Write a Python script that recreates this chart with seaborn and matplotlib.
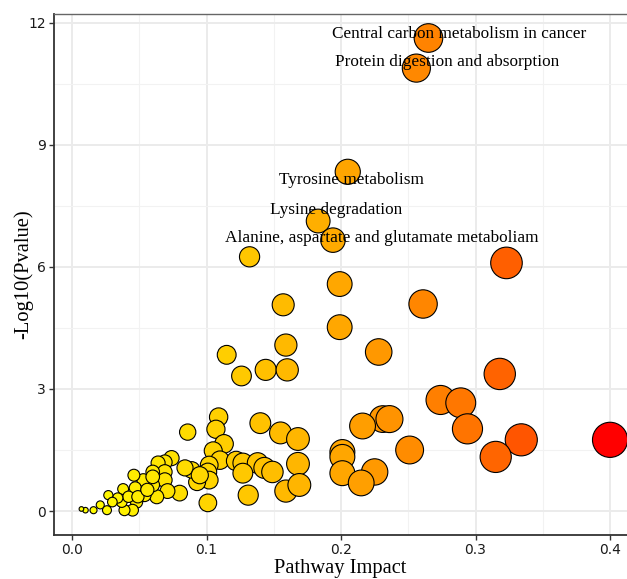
import pandas as pd
import numpy as np
import matplotlib
matplotlib.use("Agg")
import matplotlib.pyplot as plt
import seaborn as sns
from matplotlib.colors import LinearSegmentedColormap
from matplotlib.ticker import MultipleLocator

# pathway impact / -log10(p)
impact = [0.265, 0.256, 0.205, 0.183, 0.194, 0.132, 0.323, 0.199, 0.157, 0.261,
          0.199, 0.159, 0.115, 0.228, 0.126, 0.144, 0.160, 0.318,
          0.274, 0.289, 0.231, 0.236, 0.216, 0.294, 0.334, 0.400, 0.251, 0.201,
          0.201, 0.315, 0.225, 0.201, 0.215,
          0.109, 0.086, 0.107, 0.140, 0.155, 0.168, 0.113, 0.105, 0.110, 0.122,
          0.127, 0.138, 0.143, 0.149, 0.168, 0.127, 0.102, 0.101, 0.102, 0.093,
          0.089, 0.084, 0.095, 0.101, 0.131, 0.159, 0.169,
          0.074, 0.069, 0.064, 0.069, 0.060, 0.069, 0.080, 0.071, 0.063, 0.054,
          0.060, 0.053, 0.046, 0.047, 0.048, 0.045, 0.039, 0.038, 0.037, 0.042,
          0.034, 0.027, 0.026, 0.021, 0.016, 0.010, 0.007, 0.030, 0.049, 0.056,
          0.060]
logp = [11.63, 10.89, 8.34, 7.13, 6.66, 6.25, 6.10, 5.58, 5.07, 5.09,
        4.52, 4.08, 3.84, 3.91, 3.32, 3.47, 3.47, 3.37,
        2.73, 2.66, 2.26, 2.26, 2.09, 2.02, 1.75, 1.75, 1.50, 1.45,
        1.33, 1.33, 0.96, 0.93, 0.69,
        2.31, 1.94, 2.01, 2.16, 1.92, 1.77, 1.65, 1.48, 1.25, 1.23,
        1.18, 1.18, 1.06, 0.96, 1.16, 0.93, 1.13, 0.96, 0.76, 0.71,
        1.01, 1.06, 0.88, 0.20, 0.39, 0.49, 0.64,
        1.30, 1.20, 1.18, 0.96, 0.96, 0.76, 0.44, 0.49, 0.35, 0.39,
        0.64, 0.76, 0.88, 0.57, 0.22, 0.02, 0.02, 0.54, 0.22, 0.35,
        0.32, 0.39, 0.02, 0.15, 0.02, 0.02, 0.05, 0.22, 0.35, 0.52,
        0.84]

labels = ["Central carbon metabolism in cancer", "Protein digestion and absorption",
          "Tyrosine metabolism", "Lysine degradation",
          "Alanine, aspartate and glutamate metaboliam"]
label_x = [0.288, 0.279, 0.2074, 0.196, 0.2305]
label_y = [11.72, 11.04, 8.14, 7.41, 6.72]

df = pd.DataFrame({"impact": impact, "logp": logp})

cmap = LinearSegmentedColormap.from_list(
    "yr", [(0, "#FFFF00"), (0.25, "#FFD200"), (0.5, "#FFA500"),
           (0.75, "#FF7000"), (0.85, "#FF5000"), (1, "#FF0000")])

lo, hi = min(impact), max(impact)

fig = plt.figure(figsize=(6.27, 5.79), dpi=100)
ax = fig.add_axes([0.0861, 0.076, 0.9139, 0.8998])

sns.scatterplot(data=df, x="impact", y="logp", hue="impact", palette=cmap,
                hue_norm=(lo, hi), size="impact", sizes=(1600 * lo, 1600 * hi),
                size_norm=(lo, hi), edgecolor="black", linewidth=0.8,
                legend=False, ax=ax, zorder=3)

for t, x, y in zip(labels, label_x, label_y):
    ax.text(x, y, t, ha="center", va="center", fontsize=12.4,
            family="Liberation Serif", zorder=4)

ax.set_xlim(-0.0134, 0.4126)
ax.set_ylim(-0.59, 12.22)
ax.xaxis.set_major_locator(MultipleLocator(0.1))
ax.xaxis.set_minor_locator(MultipleLocator(0.05))
ax.yaxis.set_major_locator(MultipleLocator(3))
ax.yaxis.set_minor_locator(MultipleLocator(1.5))
ax.set_xticklabels([f"{v:.1f}" for v in ax.get_xticks()])
ax.set_yticklabels([f"{v:.0f}" for v in ax.get_yticks()])

ax.grid(which="major", color="#EBEBEB", linewidth=1.4, zorder=0)
ax.grid(which="minor", color="#F2F2F2", linewidth=0.8, zorder=0)
ax.set_axisbelow(True)
ax.tick_params(which="major", length=3.5, width=1, color="#333333",
               labelsize=10, labelcolor="#1a1a1a", pad=2.5)
ax.tick_params(which="minor", length=0)

for s in ["left", "bottom"]:
    ax.spines[s].set_color("#333333")
    ax.spines[s].set_linewidth(1.3)
ax.spines["top"].set_color("#666666")
ax.spines["top"].set_linewidth(1.0)
ax.spines["right"].set_visible(False)

ax.set_xlabel("Pathway Impact", family="Liberation Serif", fontsize=14.8, labelpad=1)
ax.set_ylabel("-Log10(Pvalue)", family="Liberation Serif", fontsize=14.8)
ax.yaxis.set_label_coords(-0.036, 0.5)

fig.savefig("out.png", dpi=100)
